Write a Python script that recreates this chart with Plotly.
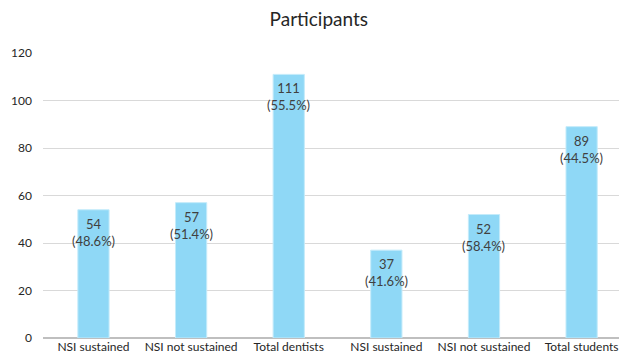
import plotly.graph_objects as go

categories = ["NSI sustained", "NSI not sustained", "Total dentists",
              "NSI sustained", "NSI not sustained", "Total students"]
values = [54, 57, 111, 37, 52, 89]
percents = ["48.6%", "51.4%", "55.5%", "41.6%", "58.4%", "44.5%"]

xs = list(range(len(categories)))
FONT = "Lato, Open Sans, sans-serif"

fig = go.Figure()
fig.add_trace(go.Bar(
    x=xs, y=values,
    marker=dict(color="#8fd8f6", line=dict(color="#c4ebfa", width=1)),
    hoverinfo="skip",
))

annotations = []
for x, v, p in zip(xs, values, percents):
    annotations.append(dict(
        x=x, y=v, xref="x", yref="y",
        text=f"{v}<br>({p})", showarrow=False,
        yanchor="top", yshift=-4,
        font=dict(family=FONT, size=13, color="#404040"),
    ))

fig.update_layout(
    width=619, height=360,
    margin=dict(l=43, r=0, t=53, b=22),
    paper_bgcolor="white", plot_bgcolor="white",
    title=dict(text="Participants", x=0.515, xanchor="center", y=0.945, yanchor="middle",
               font=dict(family=FONT, size=19, color="#262626")),
    bargap=0.68,
    showlegend=False,
    annotations=annotations,
    xaxis=dict(
        tickmode="array", tickvals=xs, ticktext=categories,
        range=[-0.517, 5.383], showgrid=False, showline=False, zeroline=False,
        ticks="", tickfont=dict(family=FONT, size=12, color="#262626"),
    ),
    yaxis=dict(
        range=[0, 120], dtick=20, showgrid=True, gridcolor="#d9d9d9", gridwidth=1,
        zeroline=True, zerolinecolor="#bfbfbf", zerolinewidth=1.5,
        showline=False, ticks="", ticklabelstandoff=10,
        tickfont=dict(family=FONT, size=12, color="#262626"),
    ),
)

fig.write_html("out.html")
